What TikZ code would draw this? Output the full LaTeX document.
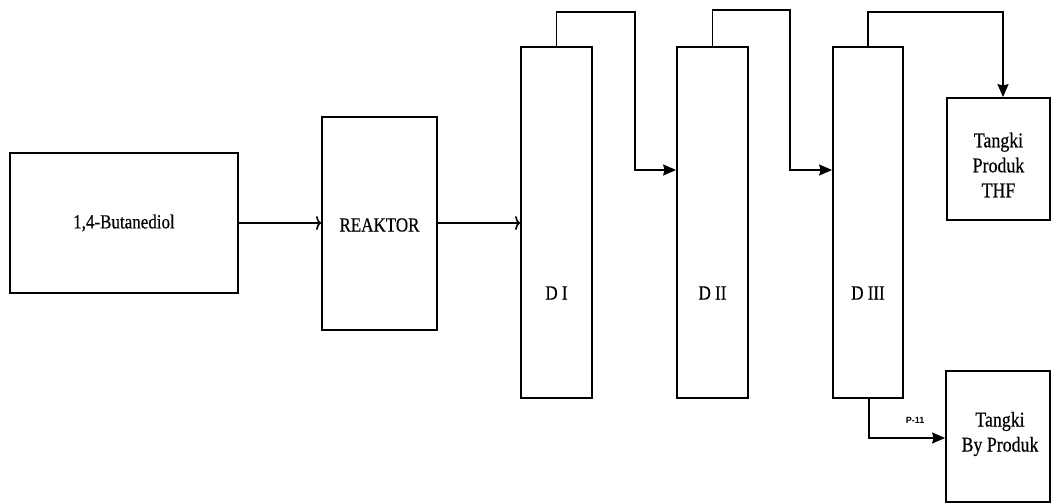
\documentclass[tikz,border=0pt]{standalone}
\usepackage{fontspec}
\setmainfont{Liberation Serif}[FakeStretch=0.85,FakeBold=0.4]
\newfontfamily\lblfont{Liberation Sans}
\usetikzlibrary{arrows.meta}
\begin{document}
\begin{tikzpicture}[x=1pt,y=-1pt,
  box/.style={draw, line width=1.8pt, rectangle, inner sep=0pt},
  flow/.style={line width=1.6pt},
  openarr/.style={flow, -{To[length=5pt,width=14pt,line width=1.6pt]}},
  fillarr/.style={flow, -{Stealth[length=13pt,width=11pt,inset=1.5pt]}},
  txt/.style={font=\fontsize{20}{24}\selectfont},
  tanktxt/.style={align=center, font=\fontsize{21}{25}\selectfont}]
\useasboundingbox (0,0) rectangle (1052,503);
\node[box, txt, minimum width=228pt, minimum height=140pt] (bd) at (124,223) {1,4-Butanediol};
\node[box, minimum width=115pt, minimum height=213pt] (rk) at (379.5,223.5) {};
\node[txt] (rkt) at (379.5,225) {REAKTOR};
\node[box, minimum width=71pt, minimum height=351pt] (d1) at (556.5,222.5) {};
\node[box, minimum width=71pt, minimum height=351pt] (d2) at (712.5,222.5) {};
\node[box, minimum width=70pt, minimum height=351pt] (d3) at (868,222.5) {};
\node[txt] (d1t) at (556.5,293) {D I};
\node[txt] (d2t) at (712.5,293) {D II};
\node[txt] (d3t) at (868,293) {D III};
\node[box, minimum width=103pt, minimum height=122pt] (thf) at (998.5,159) {};
\node[tanktxt] (thft) at (998.5,165) {Tangki\\Produk\\THF};
\node[box, minimum width=104pt, minimum height=131pt] (byp) at (998,436.5) {};
\node[tanktxt] (bypt) at (1000,434) {Tangki\\By Produk};
\node[font=\lblfont\bfseries\fontsize{9}{10}\selectfont] (p11) at (915,420) {P-11};
% feed lines
\draw[openarr] (bd.east) -- (rk.west |- bd.east);
\draw[openarr] (rk.east |- 0,223) -- (d1.west |- 0,223);
% overhead lines
\coordinate (a1) at (635,12);
\coordinate (a2) at (635,170);
\draw[fillarr] (d1.north) |- (a1) -- (a2) -- (d2.west |- a2);
\coordinate (b1) at (790,10);
\coordinate (b2) at (790,170);
\draw[fillarr] (d2.north) |- (b1) -- (b2) -- (d3.west |- b2);
\coordinate (c1) at (1003,12);
\draw[fillarr] (d3.north) |- (c1) -- (thf.north -| c1);
% bottoms
\coordinate (e1) at (869,438);
\draw[fillarr] (d3.south -| e1) -- (e1) -- (byp.west |- e1);
\end{tikzpicture}
\end{document}
